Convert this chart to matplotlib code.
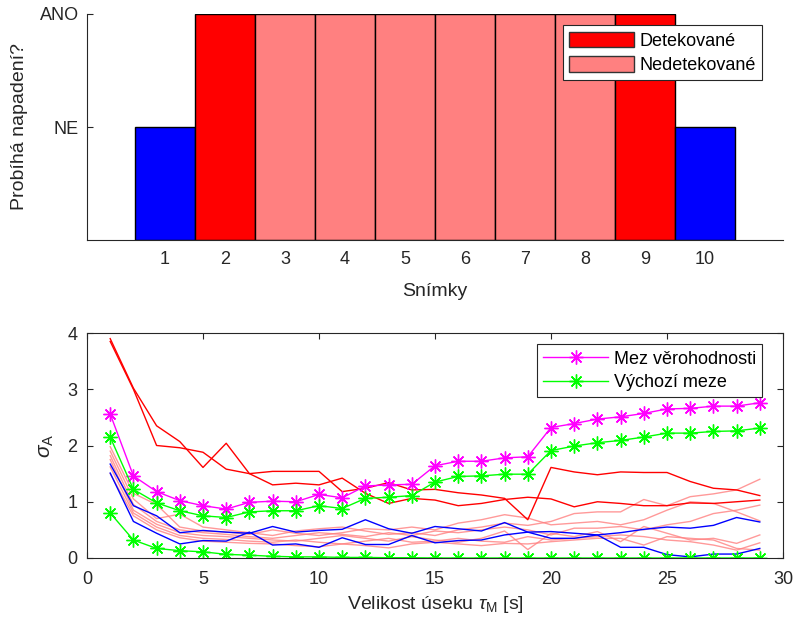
import matplotlib
matplotlib.use("Agg")
import matplotlib.pyplot as plt
from matplotlib.patches import Patch

plt.rcParams['font.family'] = ['Liberation Sans', 'DejaVu Sans']
plt.rcParams['mathtext.fontset'] = 'custom'
plt.rcParams['mathtext.rm'] = 'Liberation Sans'
plt.rcParams['mathtext.it'] = 'Liberation Sans:italic'

# ---- top chart data ----
frames = [1, 2, 3, 4, 5, 6, 7, 8, 9, 10]
attack = [1, 2, 2, 2, 2, 2, 2, 2, 2, 1]          # 1 = NE, 2 = ANO
status = ['none', 'det', 'undet', 'undet', 'undet', 'undet', 'undet', 'undet', 'det', 'none']
ytick_vals = [1, 2]
ytick_labels = ['NE', 'ANO']

# ---- bottom chart data ----
tau = list(range(1, 30))
mez_verohodnosti = [2.56, 1.46, 1.18, 1.02, 0.93, 0.87, 0.99, 1.01, 1.00, 1.13, 1.07, 1.28, 1.30, 1.31,
                    1.64, 1.72, 1.72, 1.78, 1.80, 2.32, 2.39, 2.47, 2.51, 2.57, 2.65, 2.66, 2.70, 2.70, 2.76]
vychozi_meze_horni = [2.15, 1.22, 0.98, 0.84, 0.75, 0.72, 0.82, 0.84, 0.84, 0.93, 0.88, 1.06, 1.08, 1.11,
                      1.35, 1.45, 1.46, 1.49, 1.49, 1.91, 1.99, 2.05, 2.09, 2.15, 2.22, 2.22, 2.25, 2.26, 2.31]
vychozi_meze_dolni = [0.80, 0.32, 0.17, 0.13, 0.11, 0.065, 0.05, 0.03, 0.02, 0.02, 0.01, 0.01, 0.005, 0.005,
                      0.0, 0.0, 0.0, 0.0, 0.0, 0.0, 0.0, 0.0, 0.0, 0.0, 0.0, 0.0, 0.0, 0.0, 0.0]

red_a = [3.90, 3.02, 2.35, 2.07, 1.61, 2.04, 1.50, 1.30, 1.33, 1.30, 1.42, 1.15, 0.97, 1.06, 1.03,
         0.93, 0.97, 1.04, 1.08, 1.05, 0.91, 1.00, 0.97, 0.93, 0.93, 0.98, 0.97, 1.00, 1.03]
red_b = [3.85, 3.00, 2.00, 1.96, 1.88, 1.58, 1.50, 1.54, 1.54, 1.54, 1.18, 1.24, 1.34, 1.21, 1.22,
         1.16, 1.12, 1.06, 0.68, 1.61, 1.53, 1.48, 1.53, 1.52, 1.52, 1.36, 1.24, 1.21, 1.11]

pink_1 = [1.98, 1.15, 0.95, 0.55, 0.48, 0.46, 0.42, 0.50, 0.44, 0.40, 0.45, 0.52, 0.50, 0.55, 0.50,
          0.62, 0.68, 0.77, 0.71, 0.59, 0.62, 0.65, 0.59, 0.68, 0.85, 1.00, 0.97, 0.82, 0.66]
pink_2 = [1.90, 1.05, 0.70, 0.78, 0.55, 0.50, 0.45, 0.40, 0.48, 0.52, 0.55, 0.48, 0.42, 0.45, 0.40,
          0.50, 0.55, 0.62, 0.58, 0.65, 0.79, 0.82, 0.82, 1.04, 0.93, 1.09, 1.14, 1.21, 1.40]
pink_3 = [1.82, 0.95, 0.65, 0.50, 0.45, 0.42, 0.38, 0.35, 0.40, 0.45, 0.42, 0.38, 0.45, 0.40, 0.48,
          0.45, 0.50, 0.55, 0.50, 0.41, 0.53, 0.53, 0.56, 0.50, 0.59, 0.65, 0.79, 0.85, 0.94]
pink_4 = [1.75, 0.85, 0.60, 0.45, 0.40, 0.38, 0.35, 0.32, 0.30, 0.35, 0.40, 0.35, 0.30, 0.38, 0.32,
          0.28, 0.35, 0.48, 0.15, 0.44, 0.38, 0.47, 0.29, 0.56, 0.44, 0.32, 0.35, 0.26, 0.41]
pink_5 = [1.62, 0.80, 0.55, 0.40, 0.35, 0.33, 0.30, 0.28, 0.32, 0.28, 0.25, 0.30, 0.35, 0.28, 0.30,
          0.35, 0.30, 0.28, 0.38, 0.32, 0.35, 0.38, 0.41, 0.38, 0.32, 0.29, 0.23, 0.14, 0.27]
pink_6 = [1.50, 0.75, 0.50, 0.36, 0.30, 0.28, 0.26, 0.25, 0.22, 0.20, 0.25, 0.22, 0.18, 0.25, 0.28,
          0.25, 0.22, 0.26, 0.25, 0.29, 0.32, 0.35, 0.35, 0.23, 0.38, 0.35, 0.32, 0.17, 0.14]

blue_1 = [1.67, 0.93, 0.75, 0.45, 0.49, 0.46, 0.44, 0.56, 0.46, 0.49, 0.51, 0.68, 0.52, 0.44, 0.56,
          0.52, 0.48, 0.63, 0.46, 0.47, 0.44, 0.41, 0.45, 0.51, 0.55, 0.53, 0.58, 0.72, 0.64]
blue_2 = [1.51, 0.65, 0.44, 0.25, 0.31, 0.30, 0.46, 0.23, 0.25, 0.19, 0.36, 0.24, 0.24, 0.40, 0.27,
          0.31, 0.32, 0.41, 0.46, 0.35, 0.35, 0.41, 0.19, 0.19, 0.06, 0.02, 0.07, 0.07, 0.17]

RED = '#ff0000'
PINK = '#ff8080'
BLUE = '#0000ff'
MAG = '#ff00ff'
GRN = '#00ff00'
TXT = '#262626'
color_map = {'none': BLUE, 'det': RED, 'undet': PINK}

TICK_FS = 13
LABEL_FS = 14
LEG_FS = 13

fig = plt.figure(figsize=(7.93, 6.25), dpi=100)

# ---------------- top axes ----------------
ax1 = fig.add_axes([87/793, 1-240/625, 696/793, 226/625])
bar_colors = [color_map[s] for s in status]
ax1.bar(frames, attack, width=1.0, color=bar_colors, edgecolor='black', linewidth=1.0)
ax1.set_xlim(-0.3, 11.3)
ax1.set_ylim(0, 2)
ax1.set_xticks(frames)
ax1.set_yticks(ytick_vals)
ax1.set_yticklabels(ytick_labels)
ax1.tick_params(axis='x', length=0, labelsize=TICK_FS, pad=8, labelcolor=TXT)
ax1.tick_params(axis='y', direction='in', length=4, labelsize=TICK_FS, colors=TXT, labelcolor=TXT, pad=6)
for sp in ['top', 'right']:
    ax1.spines[sp].set_visible(False)
for sp in ['left', 'bottom']:
    ax1.spines[sp].set_color(TXT)
    ax1.spines[sp].set_linewidth(0.8)
ax1.set_xlabel('Snímky', fontsize=LABEL_FS, color=TXT, labelpad=11)
ax1.set_ylabel('Probíhá napadení?', fontsize=LABEL_FS, color=TXT, labelpad=8)
handles1 = [Patch(facecolor=RED, edgecolor='#333333', label='Detekované'),
            Patch(facecolor=PINK, edgecolor='#333333', label='Nedetekované')]
leg1 = ax1.legend(handles=handles1, loc='upper right', bbox_to_anchor=(0.97, 0.95),
                  fontsize=LEG_FS, frameon=True, fancybox=False, edgecolor=TXT,
                  framealpha=1, handlelength=3.6, handleheight=0.95, borderpad=0.35,
                  labelspacing=0.35, handletextpad=0.3, borderaxespad=0.0)
leg1.get_frame().set_linewidth(0.8)

# ---------------- bottom axes ----------------
ax2 = fig.add_axes([87/793, 1-558/625, 696/793, 225/625])
for ys in [pink_1, pink_2, pink_3, pink_4, pink_5, pink_6]:
    ax2.plot(tau, ys, color=PINK, lw=1.0, alpha=0.8)
for ys in [blue_1, blue_2]:
    ax2.plot(tau, ys, color=BLUE, lw=1.0)
for ys in [red_a, red_b]:
    ax2.plot(tau, ys, color=RED, lw=1.0)
ast = (8, 2, 0)
mk = dict(marker=ast, markersize=10, markeredgewidth=1.0)
ax2.plot(tau, mez_verohodnosti, color=MAG, lw=1.0, label='Mez věrohodnosti', **mk)
ax2.plot(tau, vychozi_meze_horni, color=GRN, lw=1.0, label='Výchozí meze', **mk)
ax2.plot(tau, vychozi_meze_dolni, color=GRN, lw=1.0, **mk)
ax2.set_xlim(0, 30)
ax2.set_ylim(0, 4)
ax2.set_xticks([0, 5, 10, 15, 20, 25, 30])
ax2.set_yticks([0, 1, 2, 3, 4])
ax2.tick_params(axis='both', direction='in', length=4, labelsize=TICK_FS, top=True, right=True,
                colors=TXT, labelcolor=TXT)
ax2.tick_params(axis='x', pad=9)
ax2.tick_params(axis='y', pad=7)
for sp in ax2.spines.values():
    sp.set_color(TXT)
    sp.set_linewidth(0.8)
ax2.set_xlabel(r'Velikost úseku $\tau_\mathrm{M}$ [s]', fontsize=LABEL_FS, color=TXT, labelpad=5)
ax2.set_ylabel(r'$\sigma_\mathrm{A}$', fontsize=LABEL_FS + 1, color=TXT, labelpad=8)
leg2 = ax2.legend(loc='upper right', bbox_to_anchor=(0.97, 0.95), fontsize=LEG_FS, frameon=True,
                  fancybox=False, edgecolor=TXT, framealpha=1, handlelength=3.6,
                  borderpad=0.35, labelspacing=0.35, handletextpad=0.3, borderaxespad=0.0)
leg2.get_frame().set_linewidth(0.8)

fig.savefig('out.png', dpi=100)
